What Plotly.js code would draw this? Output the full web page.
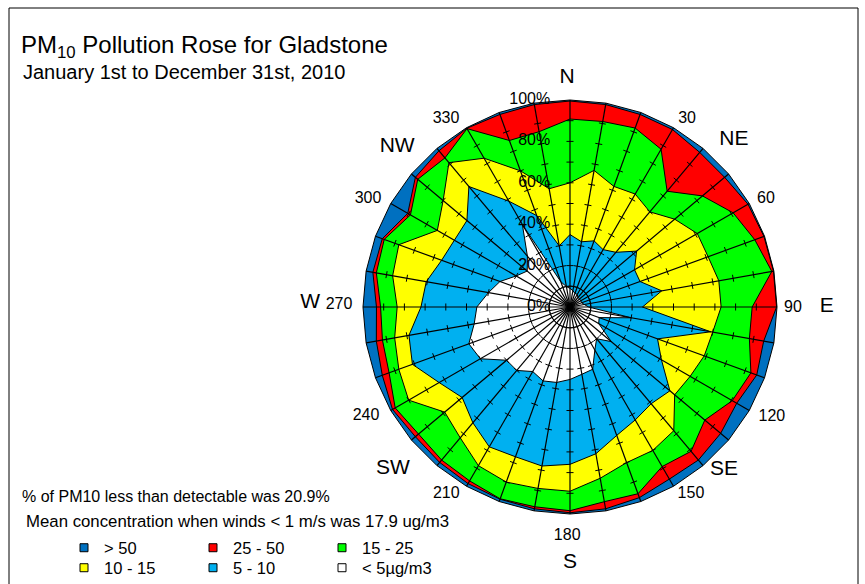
<!DOCTYPE html>
<html><head><meta charset="utf-8">
<script src="https://cdn.plot.ly/plotly-3.0.1.min.js"></script>
<style>html,body{margin:0;padding:0;background:#fff}</style>
</head><body><div id="chart" style="width:865px;height:584px"></div>
<script>
// Wind direction sectors (degrees)
const directions = [0,10,20,30,40,50,60,70,80,90,100,110,120,130,140,150,160,170,180,190,200,210,220,230,240,250,260,270,280,290,300,310,320,330,340,350];
// Cumulative percentage of hours in each direction with PM10 below each band limit
const pctBelow5  = [9,8,7,7,6,6,6,6,7,9,30,15,16,26,20,24,32,33,35,37,38,36,40,40,50,52,47,45,40,36,30,27,32,46,13,10];
const pctBelow10 = [35,32,34,32,34.5,42,36,36,45,35,69,45,51,63,61,63,66,72,76,78,77,78,73,68,73,81,79,72,70.5,66,64.5,65,76,59,47,30];
const pctBelow15 = [60,67,62,63,60,66,71,71,73,73,70,69,67,66,78,80,80,84,89,89,90,88.5,82.5,79,90,88,86,83.5,87,88,74,80,91,83,70,58];
const pctBelow25 = [90.8,91,92,88,73,83.5,91,95,99,88,88,93,90.5,85,91,89,96,95.5,98.4,98,98.6,97,96.5,95.5,97.5,93,92,91.5,95,95.5,89,96,94,99.5,85.6,86];
const pctBelow50 = [99.5,99.3,99,99,97.5,97.5,99.3,99.7,99.8,99.8,95,96,93,95,96.5,96,98,99,99.4,99,98.8,98.5,98,97.5,99,96.5,95,93.5,96.7,96.5,90.5,97.5,98.5,99.7,99,99.3];
const pctAll     = [100,100,100,100,100,100,100,100,100,100,100,100,100,100,100,100,100,100,100,100,100,100,100,100,100,100,100,100,100,100,100,100,100,100,100,100];
const bandNames  = ['> 50','25 - 50','15 - 25','10 - 15','5 - 10','< 5µg/m3'];
const bandColors = ['#0070C0','#FF0000','#00FF00','#FFFF00','#00B0F0','#FFFFFF'];
const radialTickVals = [0,20,40,60,80,100];
const radialTickText = ['0%','20%','40%','60%','80%','100%'];
const gridStep = 10; // % between spoke tick marks
// angular labels (text, placed on the polar scale)
const dirLabelText  = ['N','NE','E','SE','S','SW','W','NW','30','60','90','120','150','180','210','240','270','300','330'];
const dirLabelTheta = [-0.7,44.5,90,136.6,180,227.5,271,312.8,31.9,61.1,90.3,118.6,147.1,180.7,213.5,241.9,270.5,298.1,326.6];
const dirLabelR     = [110.6,113,124,108.3,123.7,116,125.6,113.8,107,108.1,107.7,111.1,107.6,110.6,108.3,111.7,111.6,110.6,108.8];
const dirLabelSize  = [21,21,21,21,21,21,21,21,16,16,16,16,16,16,16,16,16,16,16];

const cumulative = [pctAll,pctBelow50,pctBelow25,pctBelow15,pctBelow10,pctBelow5];
const close = a => a.concat([a[0]]);
const traces = [];
cumulative.forEach((vals,i)=>{
  traces.push({type:'scatterpolar', r:close(vals), theta:close(directions), mode:'lines',
    fill:'toself', fillcolor:bandColors[i], line:{color:'#000',width:1}, showlegend:false, hoverinfo:'skip'});
});
// spokes
const sr=[], st=[];
directions.forEach(d=>{ sr.push(0,100,null); st.push(d,d,null); });
traces.push({type:'scatterpolar', r:sr, theta:st, mode:'lines', line:{color:'#000',width:1.2}, showlegend:false, hoverinfo:'skip'});
// tick marks across spokes
const tr=[], tt=[]; const h=1.7;
directions.forEach(d=>{
  for(let v=gridStep; v<100; v+=gridStep){
    const rr=Math.sqrt(v*v+h*h), dt=Math.atan(h/v)*180/Math.PI;
    tr.push(rr,rr,null); tt.push(d-dt,d+dt,null);
  }
});
traces.push({type:'scatterpolar', r:tr, theta:tt, mode:'lines', line:{color:'#000',width:1}, showlegend:false, hoverinfo:'skip'});
// radial labels
traces.push({type:'scatterpolar', r:radialTickVals, theta:radialTickVals.map(()=>0), mode:'markers+text',
  marker:{size:30,opacity:0}, text:radialTickText, textposition:'middle left',
  textfont:{size:16,color:'#000'}, showlegend:false, hoverinfo:'skip', cliponaxis:false});
// direction labels
traces.push({type:'scatterpolar', r:dirLabelR, theta:dirLabelTheta, mode:'text', text:dirLabelText,
  textposition:'middle center', textfont:{size:dirLabelSize,color:'#000'}, showlegend:false, hoverinfo:'skip', cliponaxis:false});
// legend entries
bandNames.forEach((n,i)=>{
  traces.push({type:'scatterpolar', r:[null], theta:[null], mode:'markers', name:n,
    marker:{symbol:'square',size:8,color:bandColors[i],line:{color:'#000',width:1}},
    legend: i<3 ? 'legend' : 'legend2', hoverinfo:'skip'});
});

const F = 'Arial, "Liberation Sans", sans-serif';
const rMax = 130, cx = 570, cy = 307, r100 = 207, W = 865, H = 584;
const R = r100*rMax/100;
const layout = {
  width:W, height:H, margin:{l:0,r:0,t:0,b:0,autoexpand:false}, paper_bgcolor:'#fff',
  font:{family:F, color:'#000'},
  polar:{domain:{x:[(cx-R)/W,(cx+R)/W], y:[(H-cy-R)/H,(H-cy+R)/H]}, bgcolor:'rgba(0,0,0,0)',
    radialaxis:{range:[0,rMax], visible:false, showgrid:false},
    angularaxis:{direction:'clockwise', rotation:90, visible:false, showgrid:false}},
  title:{text:'PM<sub>10</sub> Pollution Rose for Gladstone', x:21/W, xanchor:'left', y:1-45/H, yanchor:'middle', font:{family:F,size:24,color:'#000'}},
  annotations:[
    {text:'January 1st to December 31st, 2010', xref:'paper', yref:'paper', x:21/W, y:1-72/H, xanchor:'left', yanchor:'middle', showarrow:false, font:{size:20}},
    {text:'% of PM10 less than detectable was 20.9%', xref:'paper', yref:'paper', x:20/W, y:1-496/H, xanchor:'left', yanchor:'middle', showarrow:false, font:{size:16}},
    {text:'Mean concentration when winds < 1 m/s was 17.9 ug/m3', xref:'paper', yref:'paper', x:24/W, y:1-521/H, xanchor:'left', yanchor:'middle', showarrow:false, font:{size:16.8}}
  ],
  legend:{orientation:'h', x:64/W, xanchor:'left', y:1-548/H, yanchor:'middle', entrywidth:84, font:{size:16.5}, bgcolor:'rgba(0,0,0,0)', itemclick:false},
  legend2:{orientation:'h', x:64/W, xanchor:'left', y:1-568/H, yanchor:'middle', entrywidth:84, font:{size:16.5}, bgcolor:'rgba(0,0,0,0)', itemclick:false},
  shapes:[{type:'rect', xref:'paper', yref:'paper', x0:9/W, x1:858/W, y0:-0.05, y1:1-8/H, line:{color:'#000',width:1}}]
};
Plotly.newPlot('chart', traces, layout, {staticPlot:true, displayModeBar:false});
</script></body></html>
